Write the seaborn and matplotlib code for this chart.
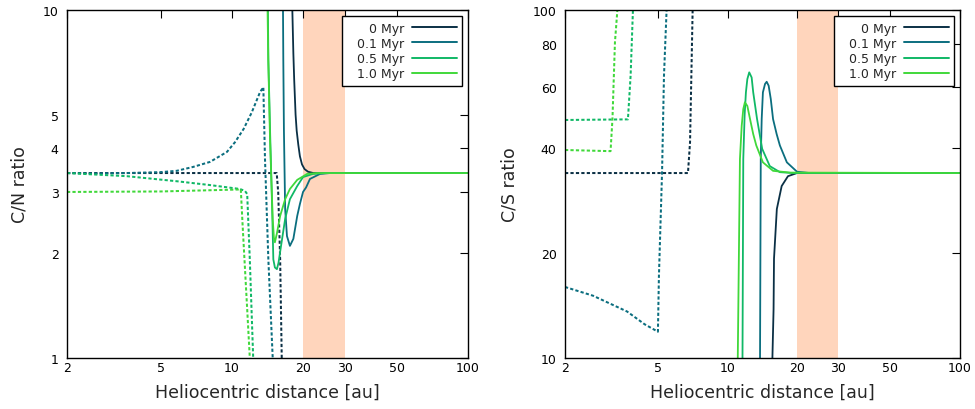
import numpy as np
import pandas as pd
import matplotlib
matplotlib.use("Agg")
import matplotlib.pyplot as plt
import seaborn as sns
from matplotlib.lines import Line2D
from matplotlib.patches import Rectangle
from matplotlib.ticker import FixedLocator, FixedFormatter, NullLocator

# ---------------- data ----------------
times = ["0 Myr", "0.1 Myr", "0.5 Myr", "1.0 Myr"]
colors = ["#0b3045", "#0b6e7f", "#10b866", "#40d83a"]

# Left panel: C/N ratio  (gas = solid, ice = dotted)
cn_gas_x = {
    "0 Myr":   [17.8, 18.02, 18.2, 18.35, 18.6, 18.8, 19.1, 19.4, 19.8, 20.3, 21.0, 22.1, 25.0, 100],
    "0.1 Myr": [16.3, 16.45, 16.5, 16.6, 16.8, 17.1, 17.6, 18.2, 18.9, 19.4, 20.0, 20.6, 21.4, 23.6, 26.0, 100],
    "0.5 Myr": [14.1, 14.2, 14.26, 14.53, 14.8, 14.97, 15.2, 15.5, 15.75, 16.0, 16.8, 17.6, 18.9, 20.0, 22.0, 25.0, 100],
    "1.0 Myr": [14.05, 14.15, 14.25, 14.5, 14.88, 15.05, 15.2, 15.5, 16.0, 16.8, 17.6, 18.9, 20.8, 23.0, 100],
}
cn_gas_y = {
    "0 Myr":   [14, 10, 7.5, 6.3, 5.0, 4.5, 4.1, 3.8, 3.6, 3.49, 3.43, 3.40, 3.40, 3.40],
    "0.1 Myr": [15, 10, 7.2, 4.5, 2.68, 2.24, 2.10, 2.20, 2.56, 2.77, 3.0, 3.09, 3.27, 3.38, 3.40, 3.40],
    "0.5 Myr": [14, 10, 7.2, 4.26, 2.68, 1.92, 1.82, 1.80, 1.88, 2.02, 2.51, 2.86, 3.12, 3.31, 3.38, 3.40, 3.40],
    "1.0 Myr": [14, 10, 7.2, 4.2, 2.51, 2.22, 2.15, 2.28, 2.56, 2.86, 3.06, 3.25, 3.38, 3.40, 3.40],
}
cn_ice_x = {
    "0 Myr":   [2, 15.47, 15.7, 16.0, 16.25, 16.3],
    "0.1 Myr": [2, 2.59, 3.57, 4.96, 5.83, 6.84, 8.07, 9.52, 10.3, 11.2, 12.13, 13.15, 13.58, 13.8, 14.26, 14.88, 14.95],
    "0.5 Myr": [2, 3.59, 5.85, 8.07, 10.8, 11.35, 11.6, 11.9, 12.3, 12.35],
    "1.0 Myr": [2, 5.0, 10.9, 11.1, 11.6, 11.9, 11.95],
}
cn_ice_y = {
    "0 Myr":   [3.40, 3.40, 2.99, 1.92, 1.0, 0.95],
    "0.1 Myr": [3.40, 3.39, 3.40, 3.42, 3.45, 3.54, 3.66, 3.91, 4.17, 4.55, 5.08, 5.81, 6.0, 3.73, 1.92, 1.0, 0.95],
    "0.5 Myr": [3.40, 3.33, 3.22, 3.14, 3.06, 3.02, 2.96, 1.92, 1.0, 0.95],
    "1.0 Myr": [3.0, 3.01, 3.05, 2.39, 1.38, 1.0, 0.95],
}

# Right panel: C/S ratio
cs_gas_x = {
    "0 Myr":   [15.5, 15.6, 15.78, 15.85, 16.3, 17.1, 18.2, 19.9, 22.0, 100],
    "0.1 Myr": [13.75, 13.8, 13.9, 14.03, 14.2, 14.5, 14.74, 15.03, 15.35, 15.7, 16.27, 16.8, 18.0, 19.9, 22.6, 100],
    "0.5 Myr": [11.55, 11.6, 11.69, 11.85, 12.0, 12.17, 12.4, 12.7, 12.9, 13.4, 14.1, 15.2, 16.8, 19.1, 100],
    "1.0 Myr": [11.0, 11.07, 11.31, 11.51, 11.69, 11.88, 12.17, 12.5, 12.9, 13.3, 14.2, 15.7, 18.6, 100],
}
cs_gas_y = {
    "0 Myr":   [6, 10, 13.8, 19.3, 26.8, 31.2, 33.3, 34.0, 34.0, 34.0],
    "0.1 Myr": [6, 10, 37.3, 48.6, 58.0, 61.3, 62.2, 60.6, 55.5, 48.6, 44.0, 40.8, 36.5, 34.3, 34.0, 34.0],
    "0.5 Myr": [6, 10, 37.3, 50.0, 58.0, 63.3, 66.2, 64.0, 58.0, 48.6, 39.9, 35.6, 34.2, 34.0, 34.0],
    "1.0 Myr": [6, 10, 37.3, 46.5, 51.9, 54.3, 53.0, 48.6, 44.0, 40.8, 36.5, 34.5, 34.1, 34.0],
}
cs_ice_x = {
    "0 Myr":   [2, 6.76, 6.90, 7.08, 7.12],
    "0.1 Myr": [2, 2.64, 3.70, 4.40, 5.02, 5.07, 5.23, 5.33, 5.47, 5.50],
    "0.5 Myr": [2, 3.73, 3.83, 3.92, 3.95],
    "1.0 Myr": [2, 3.14, 3.20, 3.28, 3.36, 3.40],
}
cs_ice_y = {
    "0 Myr":   [34.0, 34.0, 41.7, 100, 110],
    "0.1 Myr": [16.0, 15.1, 13.6, 12.5, 11.9, 17.2, 34.2, 64.6, 100, 110],
    "0.5 Myr": [48.3, 48.5, 64.7, 100, 110],
    "1.0 Myr": [39.6, 39.3, 48.6, 80.8, 100, 110],
}

x_ticks = [2, 5, 10, 20, 30, 50, 100]
cn_ticks = [1, 2, 3, 4, 5, 10]
cs_ticks = [10, 20, 40, 60, 80, 100]
zone = (20, 30)


def long_frame(gx, gy, ix, iy):
    rows = []
    for t in times:
        for xv, yv in zip(gx[t], gy[t]):
            rows.append((xv, yv, t, "gas"))
        for xv, yv in zip(ix[t], iy[t]):
            rows.append((xv, yv, t, "ice"))
    return pd.DataFrame(rows, columns=["x", "y", "time", "phase"])


df_cn = long_frame(cn_gas_x, cn_gas_y, cn_ice_x, cn_ice_y)
df_cs = long_frame(cs_gas_x, cs_gas_y, cs_ice_x, cs_ice_y)

# ---------------- style ----------------
sns.set_theme(style="white")
plt.rcParams["font.family"] = ["DejaVu Sans"]
plt.rcParams.update({
    "xtick.direction": "in", "ytick.direction": "in",
    "xtick.top": True, "ytick.right": True,
    "xtick.major.size": 6, "ytick.major.size": 6,
    "xtick.major.width": 0.8, "ytick.major.width": 0.8,
    "xtick.color": "black", "ytick.color": "black",
    "axes.edgecolor": "black", "axes.linewidth": 1.0,
})

fig = plt.figure(figsize=(9.75, 4.1), dpi=100)
axL = fig.add_axes([67 / 975, 1 - 359 / 410, (468 - 67) / 975, 348 / 410])
axR = fig.add_axes([565 / 975, 1 - 359 / 410, (960 - 565) / 975, 348 / 410])

palette = dict(zip(times, colors))
dash_map = {"gas": "", "ice": (1.6, 1.1)}

legends = []
for ax, df, yt, ylab, ylim in [
    (axL, df_cn, cn_ticks, "C/N ratio", (1, 10)),
    (axR, df_cs, cs_ticks, "C/S ratio", (10, 100)),
]:
    ax.axvspan(zone[0], zone[1], color="#ffd5bc", lw=0, zorder=0)
    sns.lineplot(data=df[df.phase == "ice"], x="x", y="y", hue="time",
                 style="phase", style_order=["ice"],
                 hue_order=times, palette=palette, dashes=dash_map,
                 sort=False, estimator=None, lw=1.45, legend=False,
                 ax=ax, zorder=3)
    sns.lineplot(data=df[df.phase == "gas"], x="x", y="y", hue="time",
                 hue_order=times, palette=palette, sort=False,
                 estimator=None, lw=1.3, legend=False, ax=ax, zorder=4)
    ax.set_xscale("log")
    ax.set_yscale("log")
    ax.set_xlim(2, 100)
    ax.set_ylim(*ylim)
    ax.xaxis.set_major_locator(FixedLocator(x_ticks))
    ax.xaxis.set_major_formatter(FixedFormatter([str(v) for v in x_ticks]))
    ax.yaxis.set_major_locator(FixedLocator(yt))
    ax.yaxis.set_major_formatter(FixedFormatter([str(v) for v in yt]))
    ax.xaxis.set_minor_locator(NullLocator())
    ax.yaxis.set_minor_locator(NullLocator())
    ax.tick_params(axis="both", labelsize=9, colors="black")
    ax.tick_params(axis="y", pad=6)
    ax.tick_params(axis="x", pad=2.5)
    ax.set_xlabel("Heliocentric distance [au]", fontsize=12.5, labelpad=6)
    ax.set_ylabel(ylab, fontsize=12.5, labelpad=10)
    for s in ax.spines.values():
        s.set_visible(True)
        s.set_color("black")
        s.set_zorder(6)

    handles = [Line2D([], [], color=c, lw=1.4) for c in colors]
    leg = ax.legend(handles, times, loc="upper right", markerfirst=False,
                    fontsize=9, frameon=False, handlelength=3.6,
                    handletextpad=0.6, labelspacing=0.18, borderpad=0.42,
                    borderaxespad=0.5)
    leg.set_zorder(10)
    legends.append((ax, leg))

# gnuplot-like key box: extra room on the left of the labels
fig.canvas.draw()
renderer = fig.canvas.get_renderer()
for ax, leg in legends:
    bb = leg.get_window_extent(renderer)
    inv = ax.transAxes.inverted()
    (x0, y0) = inv.transform((bb.x0 - 10, bb.y0))
    (x1, y1) = inv.transform((bb.x1, bb.y1))
    rect = Rectangle((x0, y0), x1 - x0, y1 - y0, transform=ax.transAxes,
                     facecolor="white", edgecolor="black", lw=1.0, zorder=9)
    ax.add_patch(rect)

fig.savefig("out.png", dpi=100)
